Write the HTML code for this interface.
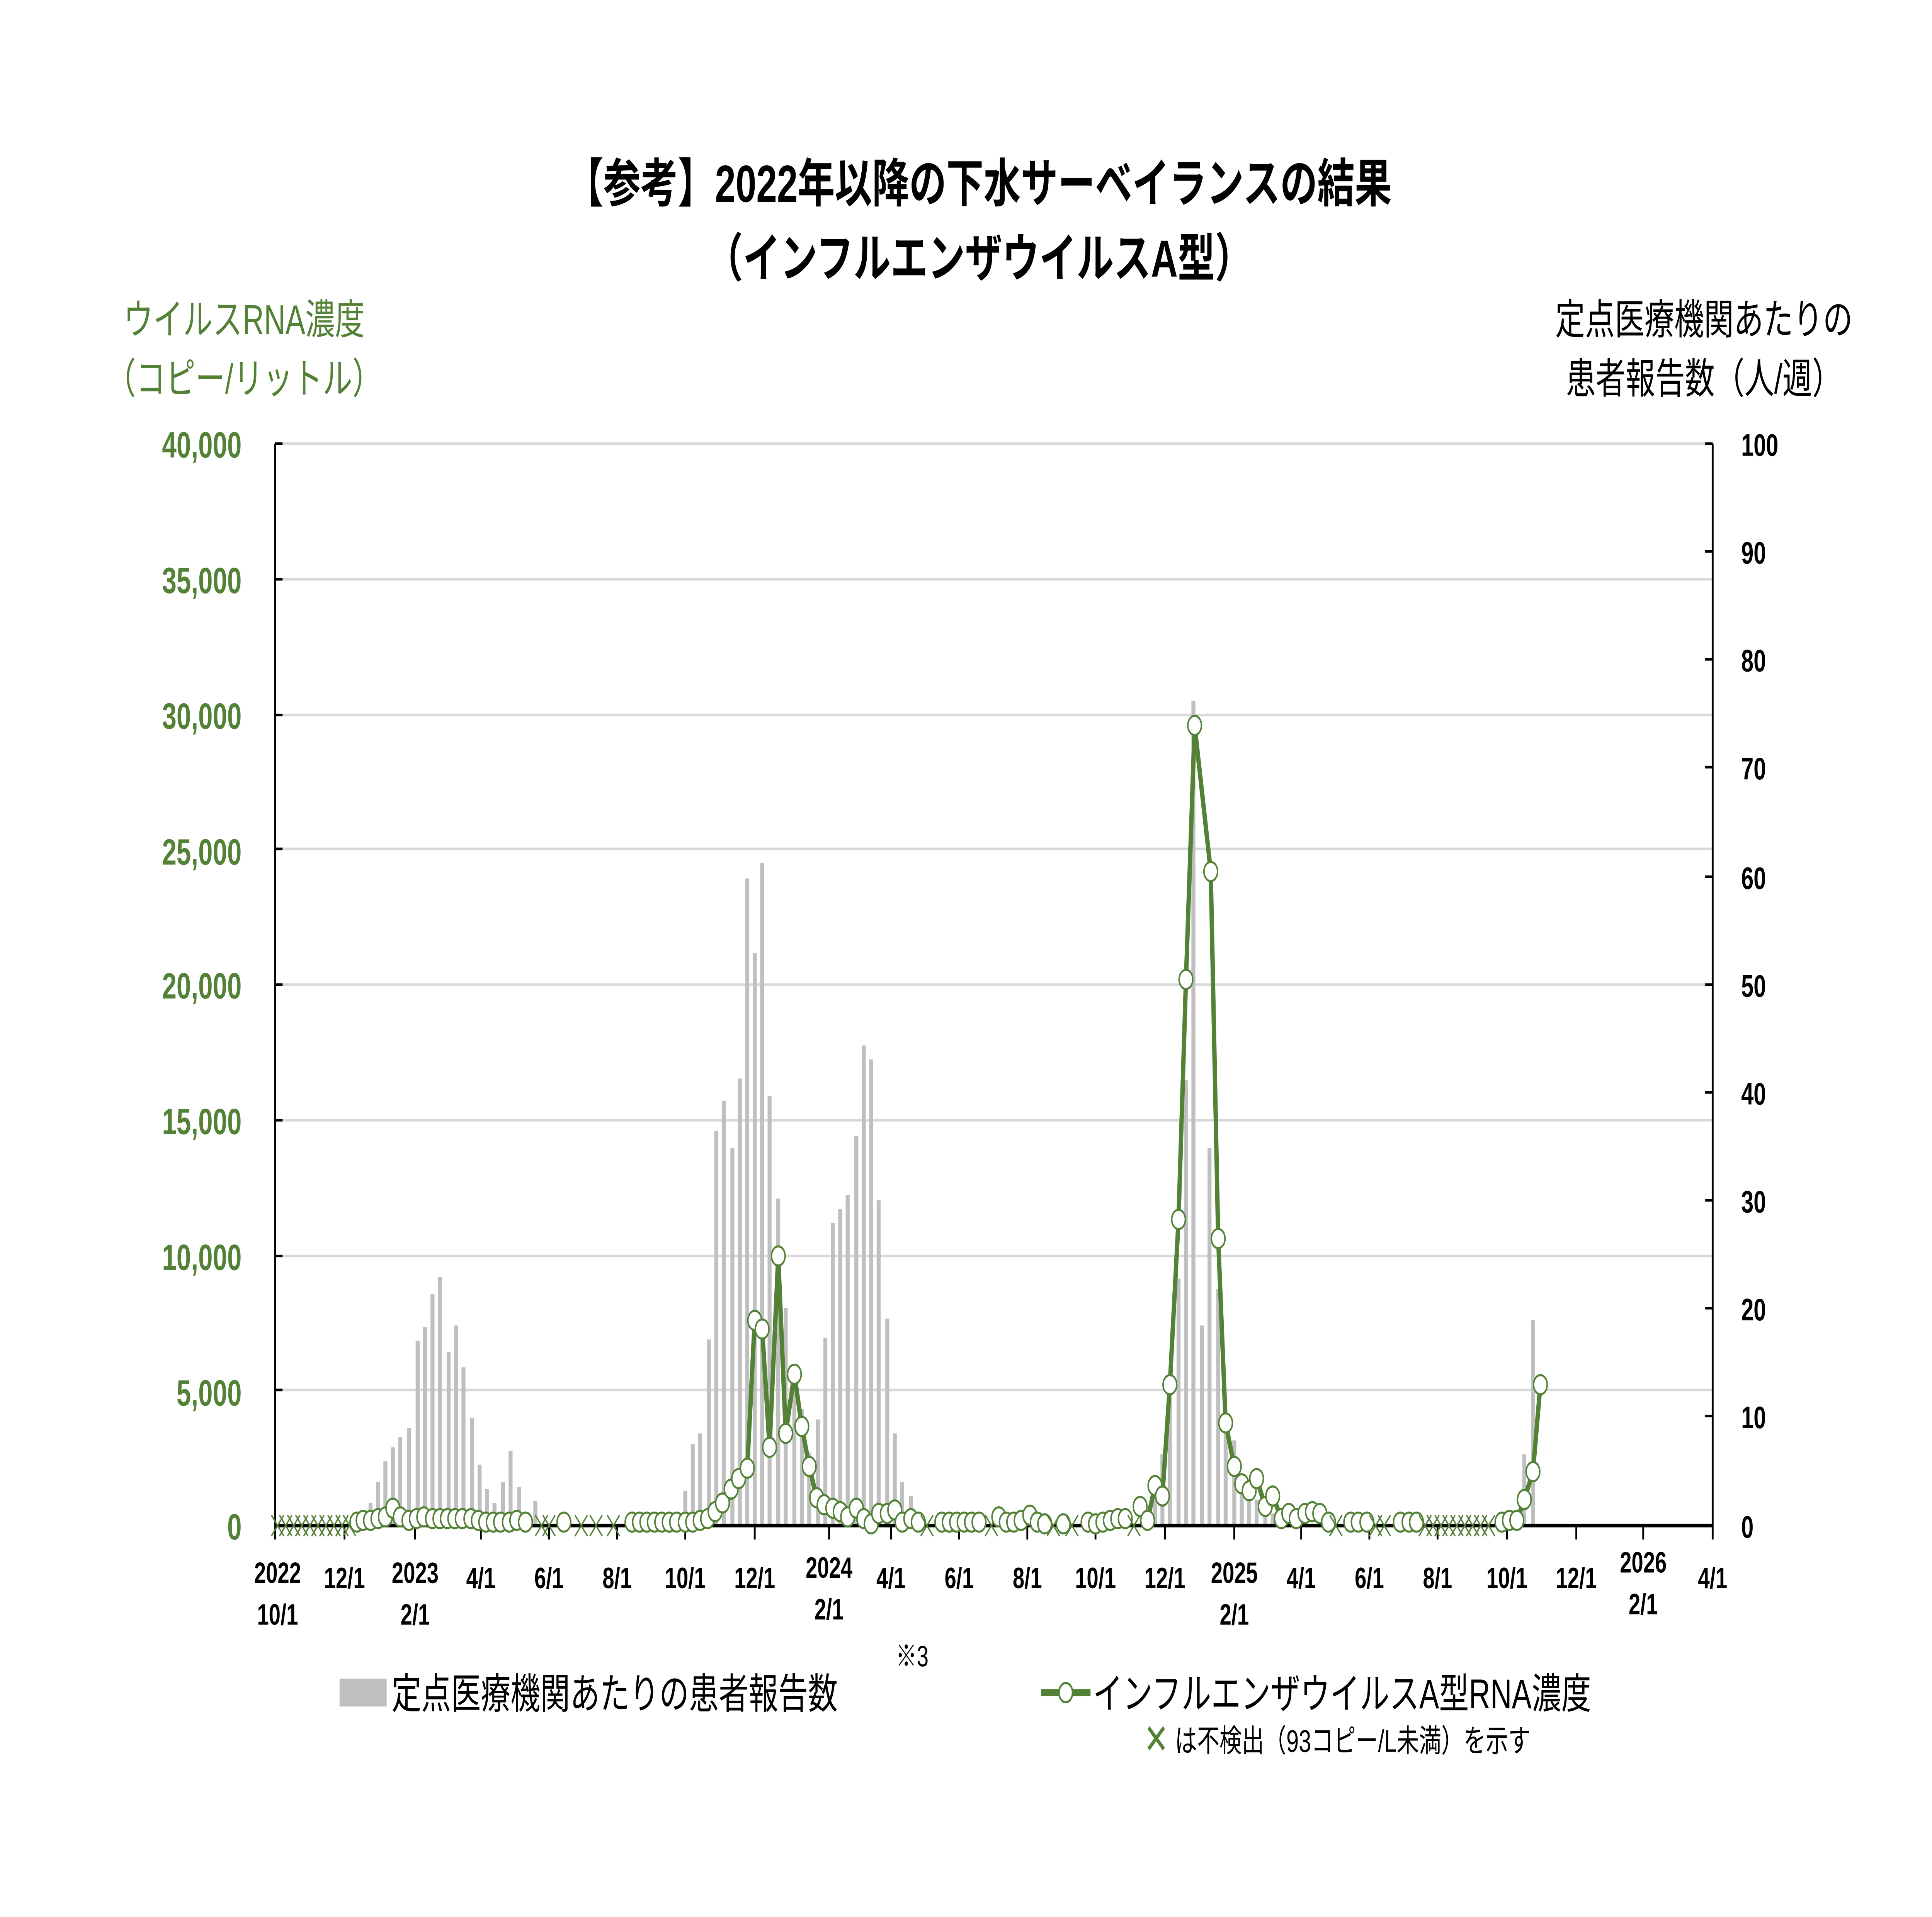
<!DOCTYPE html>
<html><head><meta charset="utf-8">
<style>
html,body{margin:0;padding:0;background:#fff;width:100%;height:100%;overflow:hidden;}
svg{display:block;position:fixed;left:0;top:0;width:100vw;height:100vh;}
text{font-family:"Liberation Sans","Noto Sans CJK JP",sans-serif;}
</style></head><body>
<svg id="s" viewBox="0 0 1559 1102" preserveAspectRatio="none" xmlns="http://www.w3.org/2000/svg">
<rect width="1559" height="1102" fill="#fff"/>
<g font-weight="bold" font-size="30" text-anchor="middle" fill="#000">
<text x="790" y="116">【参考】2022年以降の下水サーベイランスの結果</text>
<text x="790" y="159">（インフルエンザウイルスA型）</text>
</g>
<g font-size="24" fill="#538135" text-anchor="middle">
<text x="197" y="192">ウイルスRNA濃度</text>
<text x="197" y="226">（コピー/リットル）</text>
</g>
<g font-size="24" fill="#000" text-anchor="middle">
<text x="1375" y="192">定点医療機関あたりの</text>
<text x="1375" y="226">患者報告数（人/週）</text>
</g>
<g stroke="#d9d9d9" stroke-width="1.5" id="grid">
<line x1="222" x2="1382" y1="255" y2="255"/><line x1="222" x2="1382" y1="333" y2="333"/>
<line x1="222" x2="1382" y1="411" y2="411"/><line x1="222" x2="1382" y1="488" y2="488"/>
<line x1="222" x2="1382" y1="566" y2="566"/><line x1="222" x2="1382" y1="644" y2="644"/>
<line x1="222" x2="1382" y1="722" y2="722"/><line x1="222" x2="1382" y1="799" y2="799"/>
</g>
<g font-size="21" font-weight="bold" fill="#538135" text-anchor="end">
<text x="195" y="263">40,000</text><text x="195" y="341">35,000</text><text x="195" y="419">30,000</text>
<text x="195" y="497">25,000</text><text x="195" y="574">20,000</text><text x="195" y="652">15,000</text>
<text x="195" y="730">10,000</text><text x="195" y="808">5,000</text><text x="195" y="885">0</text>
</g>
<g font-size="18" font-weight="bold" fill="#000">
<text x="1405" y="262">100</text><text x="1405" y="324">90</text><text x="1405" y="386">80</text>
<text x="1405" y="448">70</text><text x="1405" y="511">60</text><text x="1405" y="573">50</text>
<text x="1405" y="635">40</text><text x="1405" y="697">30</text><text x="1405" y="759">20</text>
<text x="1405" y="821">10</text><text x="1405" y="884">0</text>
</g>
<g id="bars" fill="#bfbfbf"></g>
<g stroke="#000" stroke-width="1.5" fill="none">
<line x1="222" y1="255" x2="222" y2="877"/>
<line x1="1382" y1="255" x2="1382" y2="877"/>
<line x1="222" y1="877" x2="1382" y2="877" stroke-width="2"/>
</g>
<g id="ticks" stroke="#000" stroke-width="1.5"></g>
<g id="line"></g>
<g font-size="17" font-weight="bold" fill="#000" text-anchor="middle">
<text x="224" y="910">2022</text><text x="224" y="934">10/1</text>
<text x="278" y="913">12/1</text>
<text x="335" y="910">2023</text><text x="335" y="934">2/1</text>
<text x="388" y="913">4/1</text><text x="443" y="913">6/1</text><text x="498" y="913">8/1</text>
<text x="553" y="913">10/1</text><text x="609" y="913">12/1</text>
<text x="669" y="907">2024</text><text x="669" y="931">2/1</text>
<text x="719" y="913">4/1</text><text x="774" y="913">6/1</text><text x="829" y="913">8/1</text>
<text x="884" y="913">10/1</text><text x="940" y="913">12/1</text>
<text x="996" y="910">2025</text><text x="996" y="934">2/1</text>
<text x="1050" y="913">4/1</text><text x="1105" y="913">6/1</text><text x="1160" y="913">8/1</text>
<text x="1216" y="913">10/1</text><text x="1272" y="913">12/1</text>
<text x="1326" y="904">2026</text><text x="1326" y="928">2/1</text>
<text x="1382" y="913">4/1</text>
</g>
<text x="736" y="958" font-size="17" text-anchor="middle">※3</text>
<rect x="274" y="965" width="38" height="16" fill="#bfbfbf"/>
<text x="316" y="982" font-size="24">定点医療機関あたりの患者報告数</text>
<line x1="840" y1="973" x2="880" y2="973" stroke="#538135" stroke-width="4"/>
<circle cx="860" cy="973" r="5.5" fill="#fff" stroke="#538135" stroke-width="1.3"/>
<text x="882" y="982" font-size="24">インフルエンザウイルスA型RNA濃度</text>
<text x="933" y="1008" font-size="24" fill="#538135" text-anchor="middle">✕</text>
<text x="948" y="1007" font-size="18" fill="#000">は不検出（93コピー/L未満）を示す</text>
</svg>
<script>
var NS="http://www.w3.org/2000/svg";
function el(p,t,a){var e=document.createElementNS(NS,t);for(var k in a)e.setAttribute(k,a[k]);document.getElementById(p).appendChild(e);return e;}
[222,278,335,388,443,498,553,609,669,719,774,829,884,940,996,1050,1105,1160,1216,1272,1326,1382].forEach(function(x){el("ticks","line",{x1:x,x2:x,y1:877,y2:885});});
[255,317,379,441,504,566,628,690,752,814].forEach(function(y){el("ticks","line",{x1:1376,x2:1382,y1:y,y2:y});});
[255,333,411,488,566,644,722,799].forEach(function(y){el("ticks","line",{x1:222,x2:228,y1:y,y2:y});});
var B=[[299,864],[305,852],[311,840],[317,832],[323,826],[330,821],[337,771],[343,763],[349,744],[355,734],[362,777],[368,762],[374,786],[381,815],[387,842],[393,856],[399,864],[406,852],[412,834],[419,855],[425,870],[432,863],
[540,874],[547,869],[553,857],[559,830],[565,824],[572,770],[578,650],[584,633],[591,660],[597,620],[603,505],[609,548],[615,496],[621,630],[628,689],[634,752],[641,795],[647,810],[653,835],[660,816],[666,769],[672,703],[678,695],[684,687],[691,653],[697,601],[703,609],[709,690],[716,758],[722,824],[728,852],[735,860],
[920,876],[926,870],[932,855],[938,836],[944,800],[951,735],[957,621],[963,403],[970,762],[976,660],[983,741],[989,812],[996,828],[1002,852],[1008,858],[1014,862],[1021,866],[1027,870],[1034,872],
[1224,872],[1230,836],[1237,759]];
B.forEach(function(b){el("bars","rect",{x:b[0]-1.6,y:b[1],width:3.2,height:877-b[1]});});
var P=[];
for(var x=224;x<=276;x+=6.5)P.push([x,'X']);
P.push([282,'X']);
[[288,875],[293,874],[299,874],[305,873],[311,872],[317,867],[323,872],[330,874],[336,873],[342,872],[349,873],[355,873],[361,873],[367,873],[373,873],[380,873],[386,874],[392,875],[398,875],[404,875],[411,875],[417,874],[424,875]].forEach(function(p){P.push(p)});
P.push([437,'X']);P.push([443,'X']);P.push([455,875]);P.push([469,'X']);P.push([481,'X']);P.push([495,'X']);
[[510,875],[516,875],[522,875],[528,875],[534,875],[540,875],[546,875],[553,875],[559,875],[565,874],[571,873],[577,869],[583,864],[590,856],[596,850],[603,844],[609,759],[615,764],[621,832],[628,722],[634,824],[641,790],[647,820],[653,843],[659,861],[665,865],[672,867],[678,869],[684,872],[691,867],[697,873],[703,876],[709,870],[716,870],[722,868],[728,875],[735,873],[741,875]].forEach(function(p){P.push(p)});
P.push([748,'X']);
[[760,875],[766,875],[772,875],[778,875],[784,875],[790,875]].forEach(function(p){P.push(p)});
P.push([800,'X']);
[[806,872],[812,875],[818,875],[824,874],[831,871],[837,875],[843,876]].forEach(function(p){P.push(p)});
P.push([850,'X']);P.push([858,876]);P.push([865,'X']);
[[878,875],[884,876],[890,875],[896,874],[902,873],[908,873]].forEach(function(p){P.push(p)});
P.push([915,'X']);
[[920,866],[926,874],[932,854],[938,860],[944,796],[951,701],[957,563],[964,417],[977,501],[983,712],[989,818],[996,843],[1002,853],[1008,857],[1014,850],[1021,866],[1027,860],[1034,873],[1040,870],[1046,873],[1053,870],[1059,869],[1065,870],[1072,875]].forEach(function(p){P.push(p)});
P.push([1078,'X']);
[[1090,875],[1096,875],[1103,875]].forEach(function(p){P.push(p)});
P.push([1110,'X']);P.push([1117,'X']);
[[1130,875],[1137,875],[1143,875]].forEach(function(p){P.push(p)});
for(var x=1150;x<=1205;x+=6.4)P.push([x,'X']);
[[1212,875],[1218,874],[1224,874],[1230,862],[1237,846],[1243,796]].forEach(function(p){P.push(p)});
var seg=[];function flush(){if(seg.length>1)el("line","polyline",{points:seg.map(function(p){return p.join(",")}).join(" "),fill:"none",stroke:"#538135","stroke-width":3.5,"stroke-linejoin":"round"});seg=[];}
P.forEach(function(p){if(p[1]==='X')flush();else seg.push(p);});flush();
P.forEach(function(p){
 if(p[1]==='X'){el("line","line",{x1:p[0]-5,y1:871,x2:p[0]+5,y2:883,stroke:"#538135","stroke-width":1});el("line","line",{x1:p[0]+5,y1:871,x2:p[0]-5,y2:883,stroke:"#538135","stroke-width":1});}
 else el("line","circle",{cx:p[0],cy:p[1],r:5.5,fill:"#fff",stroke:"#538135","stroke-width":1.2});
});
</script>
</body></html>
